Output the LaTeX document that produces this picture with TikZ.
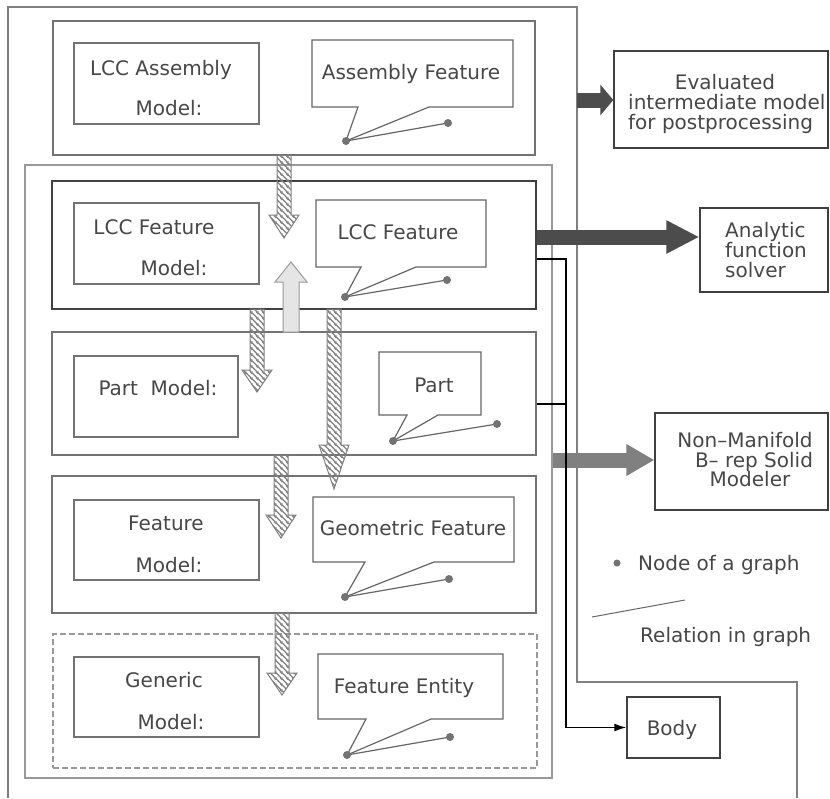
\documentclass[tikz,border=0pt]{standalone}
\usepackage{fontspec}
\setmainfont{DejaVu Sans}
\usetikzlibrary{arrows.meta,patterns.meta,fit}
\tikzdeclarepattern{
  name=hatchnw,
  type=uncolored,
  bounding box={(0pt,0pt) and (6pt,6pt)},
  tile size={(6pt,6pt)},
  code={
    \draw[line width=1.4pt] (-1pt,7pt) -- (7pt,-1pt);
    \draw[line width=1.4pt] (-4pt,4pt) -- (4pt,-4pt);
    \draw[line width=1.4pt] (2pt,10pt) -- (10pt,2pt);
  }
}
\newcommand\hatchdownarrow[4]{%
  \draw[hatchar] (#1-7,#2) -- (#1+7,#2) -- (#1+7,#3) -- (#1+15,#3) -- (#1,#4) -- (#1-15,#3) -- (#1-7,#3) -- cycle;}
\newcommand\calloutshape[9]{%
  % x1 y1 x2 y2 tailL tipx tipy tailR {dotx,doty}
  \draw[callout] (#1,#2) -- (#3,#2) -- (#3,#4) -- (#8,#4) -- (#6,#7) -- (#5,#4) -- (#1,#4) -- cycle;
  \draw[callout] (#6,#7) -- (#9);
  \fill[dotc] (#6,#7) circle (4);
  \fill[dotc] (#9) circle (4);}
\begin{document}
\begin{tikzpicture}[x=1pt,y=-1pt,
  frame/.style={draw=black!50,line width=1.5pt},
  innerframe/.style={draw=black!40,line width=1.8pt},
  box/.style={draw=black!55,line width=1.3pt,inner sep=0pt},
  darkbox/.style={draw=black!75,line width=1.3pt,inner sep=0pt},
  dashbox/.style={draw=black!40,line width=1.5pt,dash pattern=on 6pt off 3pt,inner sep=0pt},
  callout/.style={draw=black!60,line width=1.2pt,line join=miter},
  dotc/.style={fill=black!55},
  txt/.style={font=\fontsize{20}{20}\selectfont,text=black!72,inner sep=0pt,text height=14.5pt,text depth=0pt},
  hatchar/.style={draw=black!50,line width=1pt,pattern={hatchnw},pattern color=black!50},
  lightar/.style={draw=black!40,line width=1pt,fill=black!10},
  darkar/.style={draw=black!70,line width=15pt},
  grayar/.style={draw=black!50,line width=15pt},
  blk/.style={draw=black,line width=1.6pt}
]
\useasboundingbox (0,0) rectangle (830,798);
\fill[white] (0,0) rectangle (830,798);

% outer frame
\draw[frame] (8,798) -- (8,7) -- (577,7) -- (577,682) -- (797,682) -- (797,798);
% inner frame
\node[innerframe,inner sep=0pt,fit={(25,165) (552,778)}] (inner) {};

% level boxes
\node[box,fit={(53,21) (535,155)}] (asm) {};
\node[box,fit={(74,43) (259,124)}] (asmmodel) {};
\node[darkbox,fit={(52,181) (536,309)}] (lccf) {};
\node[box,fit={(74,203) (259,284)}] (lccfmodel) {};
\node[box,fit={(52,332) (536,455)}] (part) {};
\node[box,fit={(74,356) (238,437)}] (partmodel) {};
\node[box,fit={(52,476) (536,613)}] (feat) {};
\node[box,fit={(74,500) (259,580)}] (featmodel) {};
\node[dashbox,fit={(53,634) (537,768)}] (generic) {};
\node[box,fit={(74,657) (259,737)}] (genmodel) {};

% right boxes
\node[darkbox,fit={(614,51) (828,148)}] (eval) {};
\node[darkbox,fit={(700,208) (828,292)}] (analytic) {};
\node[darkbox,fit={(655,413) (828,510)}] (nonman) {};
\node[darkbox,fit={(627,697) (720,758)}] (body) {};

% callouts
\calloutshape{312}{40}{513}{107}{358}{346}{141}{429}{448,123}
\calloutshape{316}{200}{486}{267}{361}{345}{297}{416}{447,280}
\calloutshape{379}{352}{481}{415}{407}{393}{441}{438}{497,424}
\calloutshape{313}{497}{514}{562}{365}{345}{597}{434}{449,579}
\calloutshape{318}{654}{503}{719}{366}{347}{755}{431}{450,737}

% texts
\node[txt] (t1) at (161,68) {LCC Assembly};
\node[txt] (t2) at (169,108) {Model:};
\node[txt] (t3) at (411,72) {Assembly Feature};
\node[txt] (t4) at (154,227) {LCC Feature};
\node[txt] (t5) at (174,268) {Model:};
\node[txt] (t6) at (398,232) {LCC Feature};
\node[txt] (t7) at (158,388) {Part\ \ Model:};
\node[txt] (t8) at (434,385) {Part};
\node[txt] (t9) at (166,523) {Feature};
\node[txt] (t10) at (169,565) {Model:};
\node[txt] (t11) at (413,528) {Geometric Feature};
\node[txt] (t12) at (164,680) {Generic};
\node[txt] (t13) at (171,722) {Model:};
\node[txt] (t14) at (404,686) {Feature Entity};
\node[txt] (t15) at (725,82) {Evaluated};
\node[txt,anchor=west] (t16) at (628,102) {intermediate model};
\node[txt,anchor=west] (t17) at (628,122) {for postprocessing};
\node[txt,anchor=west] (t18) at (725,230) {Analytic};
\node[txt,anchor=west] (t19) at (725,250) {function};
\node[txt,anchor=west] (t20) at (725,270) {solver};
\node[txt] (t21) at (745,440) {Non–Manifold};
\node[txt] (t22) at (754,460) {B– rep Solid};
\node[txt] (t23) at (750,479) {Modeler};
\node[txt] (t24) at (672,728) {Body};
\node[txt,anchor=west] (t25) at (638,563) {Node of a graph};
\node[txt,anchor=west] (t26) at (640,635) {Relation in graph};

% legend
\fill[dotc] (617,563) circle (3.5);
\draw[callout,line width=1pt] (592,617) -- (685,600);

% hatched arrows
\hatchdownarrow{284}{155}{215}{238}
\hatchdownarrow{257}{309}{370}{392}
\hatchdownarrow{334}{309}{445}{489}
\hatchdownarrow{281}{455}{515}{538}
\hatchdownarrow{282}{613}{673}{695}
% light up arrow
\draw[lightar] (283,332) -- (283,282) -- (275,282) -- (291,262) -- (307,282) -- (299,282) -- (299,332) -- cycle;

% big arrows to the right boxes
\draw[darkar,-{Triangle[length=13pt,width=30pt]}] (577,100) -- (eval.west |- 0,100);
\draw[darkar,-{Triangle[length=33pt,width=31pt]}] (lccf.east |- 0,237) -- (analytic.west |- 0,237);
\draw[grayar,-{Triangle[length=28pt,width=30pt]}] (inner.east |- 0,460) -- (nonman.west |- 0,460);

% black connector to body
\draw[blk] (lccf.east |- 0,259) -- (566,259) -- (566,404);
\draw[blk] (part.east |- 0,404) -- (566,404);
\draw[blk,-{Latex[length=12pt,width=8pt]}] (566,404) |- (body.west);
\end{tikzpicture}
\end{document}
